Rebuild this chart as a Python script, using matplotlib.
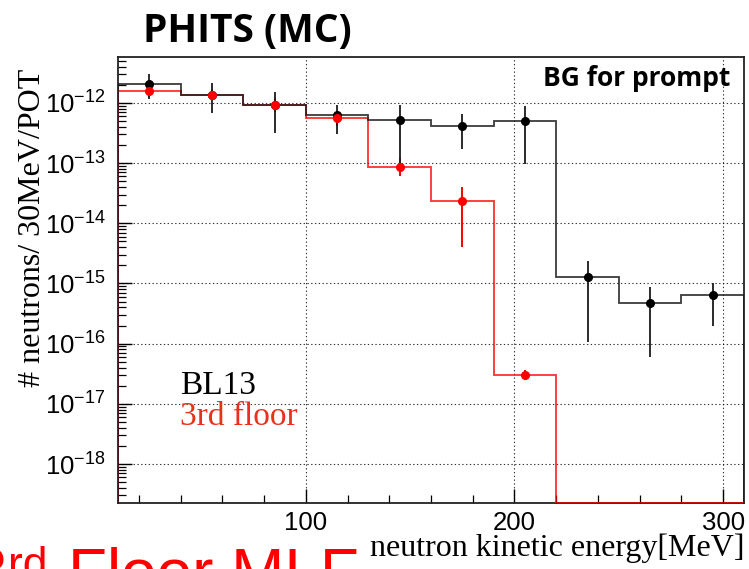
import numpy as np
import matplotlib
matplotlib.use("Agg")
import matplotlib.pyplot as plt
from matplotlib.ticker import LogLocator, NullFormatter, MultipleLocator, FixedLocator

# ---------------- data ----------------
bin_edges = [10, 40, 70, 100, 130, 160, 190, 220, 250, 280, 310]   # MeV
bin_centers = [25, 55, 85, 115, 145, 175, 205, 235, 265, 295]

bl13_values = [2.04e-12, 1.38e-12, 9.3e-13, 6.25e-13, 5.2e-13, 4.2e-13, 5.0e-13, 1.28e-15, 4.74e-16, 6.37e-16]
bl13_err_hi = [3.03e-12, 2.12e-12, 1.54e-12, 9.3e-13, 9.3e-13, 6.56e-13, 9.0e-13, 2.37e-15, 8.85e-16, 1.03e-15]
bl13_err_lo = [1.16e-12, 6.9e-13, 3.13e-13, 3.05e-13, 9.7e-14, 1.70e-13, 9.7e-14, 1.05e-16, 5.94e-17, 1.97e-16]

floor3_values = [1.6e-12, 1.38e-12, 9.3e-13, 5.57e-13, 8.53e-14, 2.32e-14, 3.0e-17, 0.0, 0.0, 0.0]
floor3_err_hi = [2.05e-12, 1.7e-12, 1.2e-12, 7.3e-13, 1.22e-13, 4.08e-14, 3.6e-17, 0.0, 0.0, 0.0]
floor3_err_lo = [1.25e-12, 1.1e-12, 7.0e-13, 4.2e-13, 6.1e-14, 4.11e-15, 2.5e-17, 0.0, 0.0, 0.0]

x_ticks = [100, 200, 300]
y_range = (2.25e-19, 5.8e-12)
x_range = (10, 310)

# ---------------- figure ----------------
W, H = 749, 569
fig = plt.figure(figsize=(W / 100, H / 100), dpi=100)
plt.rcParams['font.family'] = ['Liberation Sans', 'DejaVu Sans']
plt.rcParams['mathtext.fontset'] = 'custom'
plt.rcParams['mathtext.rm'] = 'Liberation Sans'
plt.rcParams['mathtext.it'] = 'Liberation Sans'
plt.rcParams['mathtext.default'] = 'regular'


def fx(px):
    return px / W


def fy(py):
    return 1 - py / H


ax = fig.add_axes([fx(118), fy(503), (744 - 118) / W, (503 - 57) / H])
ax.set_yscale('log')
ax.set_xlim(*x_range)
ax.set_ylim(*y_range)
ymin = y_range[0]

black = '#1a1a1a'
red = '#ff0000'

f3 = np.array(floor3_values)
f3_plot = np.where(f3 > 0, f3, ymin)
ax.stairs(f3_plot, bin_edges, color=red, lw=1.4, alpha=0.75, zorder=3)
ax.stairs(bl13_values, bin_edges, color=black, lw=1.3, alpha=0.85, zorder=4)

mask = f3 > 0
xc = np.array(bin_centers)
ax.vlines(xc[mask], np.array(floor3_err_lo)[mask], np.array(floor3_err_hi)[mask],
          color=red, lw=1.4, zorder=5)
ax.vlines(xc, bl13_err_lo, bl13_err_hi, color=black, lw=1.3, zorder=6)
ax.plot(xc, bl13_values, 'o', color='black', ms=5.5, zorder=7)
ax.plot(xc[mask], f3[mask], 'o', color=red, ms=5.5, zorder=8)

# grid
ax.grid(True, which='major', color='black', lw=0.8, linestyle=(0, (1.2, 2.2)), alpha=0.8)
ax.set_axisbelow(True)

# ticks
ax.xaxis.set_major_locator(FixedLocator(x_ticks))
ax.xaxis.set_minor_locator(MultipleLocator(20))
ax.yaxis.set_major_locator(LogLocator(base=10, numticks=30))
ax.yaxis.set_minor_locator(LogLocator(base=10, subs=np.arange(2, 10), numticks=30))
ax.yaxis.set_minor_formatter(NullFormatter())
ax.tick_params(axis='both', which='major', direction='in', length=10, width=1.0,
               labelsize=18.5, colors='black')
ax.tick_params(axis='both', which='minor', direction='in', length=6, width=0.9)
ax.tick_params(axis='y', which='major', pad=9)
ax.tick_params(axis='x', which='major', pad=6)
for s in ax.spines.values():
    s.set_linewidth(1.3)
    s.set_color('#222222')

# axis titles
fig.text(fx(745), fy(556), 'neutron kinetic energy[MeV]', ha='right', va='baseline',
         fontsize=23, family=['Liberation Serif', 'DejaVu Serif'])
fig.text(fx(40), fy(228), '# neutrons/ 30MeV/POT', rotation=90, rotation_mode='anchor',
         ha='center', va='baseline', fontsize=23, family=['Liberation Serif', 'DejaVu Serif'])

# legend-like labels
fig.text(fx(180), fy(394), 'BL13', ha='left', va='baseline', fontsize=24,
         family=['Liberation Serif', 'DejaVu Serif'], color='black')
fig.text(fx(180), fy(425), '3rd floor', ha='left', va='baseline', fontsize=24,
         family=['Liberation Serif', 'DejaVu Serif'], color='#e8301c')

# annotations
fig.text(fx(247), fy(42), 'PHITS (MC)', ha='center', va='baseline', fontsize=28,
         fontweight='bold', family=['Open Sans', 'DejaVu Sans'])
fig.text(fx(730), fy(86), 'BG for prompt', ha='right', va='baseline', fontsize=19,
         fontweight='bold', family=['Open Sans', 'DejaVu Sans'])

# cut-off slide text at bottom left
fig.text(fx(-28), fy(593), '3', ha='left', va='baseline', fontsize=46, color='red',
         family=['Liberation Sans', 'DejaVu Sans'])
fig.text(fx(8), fy(578), 'rd', ha='left', va='baseline', fontsize=32, color='red',
         family=['Liberation Sans', 'DejaVu Sans'])
fig.text(fx(68), fy(593), 'Floor MLF', ha='left', va='baseline', fontsize=46, color='red',
         family=['Liberation Sans', 'DejaVu Sans'])

fig.savefig('out.png', dpi=100)
